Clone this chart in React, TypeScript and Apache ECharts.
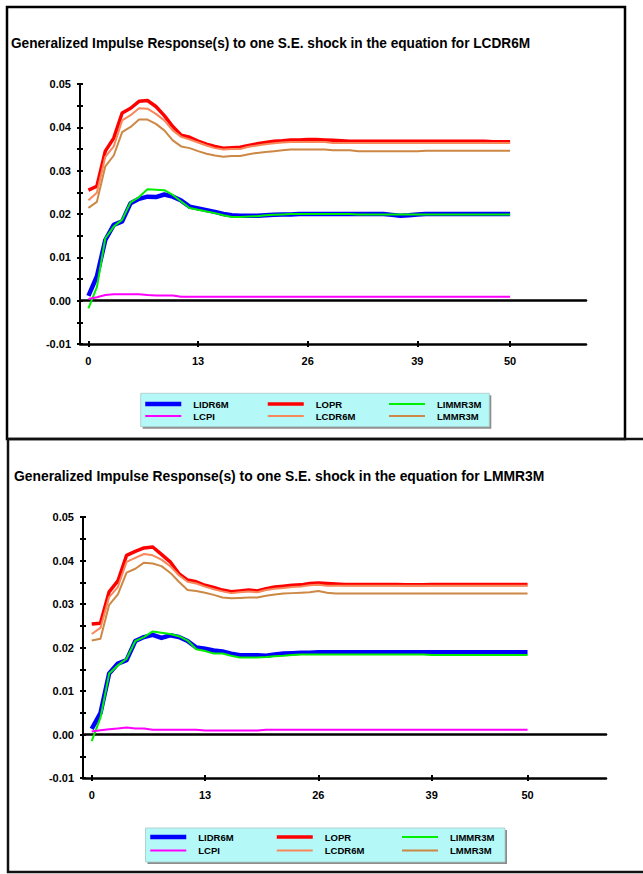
import React, { useEffect, useRef } from 'react';
import * as echarts from 'echarts';

const STEPS = [0, 1, 2, 3, 4, 5, 6, 7, 8, 9, 10, 11, 12, 13, 14, 15, 16, 17, 18, 19, 20, 21, 22, 23, 24, 25, 26, 27, 28, 29, 30, 31, 32, 33, 34, 35, 36, 37, 38, 39, 40, 41, 42, 43, 44, 45, 46, 47, 48, 49, 50];
const X_TICKS = [0, 13, 26, 39, 50];
const NAMES = ['LIDR6M', 'LOPR', 'LIMMR3M', 'LCPI', 'LCDR6M', 'LMMR3M'];
const TITLES = [
  'Generalized Impulse Response(s) to one S.E. shock in the equation for LCDR6M',
  'Generalized Impulse Response(s) to one S.E. shock in the equation for LMMR3M',
];

// ---- top panel (shock to LCDR6M) ----
const TOP_LIDR6M = [0.0011, 0.0056, 0.0140, 0.0175, 0.0183, 0.0225, 0.0235, 0.0240, 0.0239, 0.0245, 0.0240, 0.0231, 0.0217, 0.0213, 0.0209, 0.0205, 0.0200, 0.0197, 0.0196, 0.0196, 0.0196, 0.0197, 0.0198, 0.0199, 0.0199, 0.0200, 0.0200, 0.0200, 0.0200, 0.0200, 0.0200, 0.0200, 0.0200, 0.0200, 0.0200, 0.0200, 0.0198, 0.0196, 0.0197, 0.0199, 0.0200, 0.0200, 0.0200, 0.0200, 0.0200, 0.0200, 0.0200, 0.0200, 0.0200, 0.0200, 0.0200];
const TOP_LOPR = [0.0255, 0.0264, 0.0345, 0.0375, 0.0433, 0.0444, 0.0460, 0.0462, 0.0448, 0.0427, 0.0402, 0.0382, 0.0377, 0.0368, 0.0361, 0.0356, 0.0352, 0.0353, 0.0354, 0.0358, 0.0362, 0.0365, 0.0368, 0.0369, 0.0371, 0.0371, 0.0372, 0.0372, 0.0371, 0.0370, 0.0369, 0.0368, 0.0368, 0.0368, 0.0368, 0.0368, 0.0368, 0.0368, 0.0368, 0.0368, 0.0368, 0.0368, 0.0368, 0.0368, 0.0368, 0.0368, 0.0368, 0.0368, 0.0367, 0.0367, 0.0367];
const TOP_LIMMR3M = [-0.0018, 0.0031, 0.0144, 0.0171, 0.0187, 0.0227, 0.0239, 0.0257, 0.0256, 0.0255, 0.0244, 0.0229, 0.0214, 0.0210, 0.0206, 0.0202, 0.0197, 0.0193, 0.0193, 0.0194, 0.0195, 0.0197, 0.0198, 0.0199, 0.0200, 0.0200, 0.0200, 0.0200, 0.0200, 0.0200, 0.0200, 0.0200, 0.0199, 0.0199, 0.0199, 0.0199, 0.0199, 0.0199, 0.0199, 0.0199, 0.0199, 0.0199, 0.0199, 0.0199, 0.0199, 0.0199, 0.0199, 0.0199, 0.0199, 0.0199, 0.0199];
const TOP_LCPI = [0.0004, 0.0008, 0.0013, 0.0015, 0.0015, 0.0015, 0.0015, 0.0013, 0.0012, 0.0012, 0.0012, 0.0009, 0.0009, 0.0009, 0.0009, 0.0009, 0.0009, 0.0009, 0.0009, 0.0009, 0.0009, 0.0009, 0.0009, 0.0009, 0.0009, 0.0009, 0.0009, 0.0009, 0.0009, 0.0009, 0.0009, 0.0009, 0.0009, 0.0009, 0.0009, 0.0009, 0.0009, 0.0009, 0.0009, 0.0009, 0.0009, 0.0009, 0.0009, 0.0009, 0.0009, 0.0009, 0.0009, 0.0009, 0.0009, 0.0009, 0.0009];
const TOP_LCDR6M = [0.0232, 0.0249, 0.0332, 0.0356, 0.0416, 0.0428, 0.0444, 0.0443, 0.0431, 0.0416, 0.0393, 0.0378, 0.0372, 0.0365, 0.0358, 0.0352, 0.0349, 0.0350, 0.0350, 0.0355, 0.0358, 0.0361, 0.0363, 0.0365, 0.0366, 0.0366, 0.0366, 0.0366, 0.0366, 0.0364, 0.0364, 0.0364, 0.0364, 0.0364, 0.0364, 0.0364, 0.0364, 0.0364, 0.0364, 0.0364, 0.0364, 0.0364, 0.0364, 0.0364, 0.0364, 0.0364, 0.0364, 0.0364, 0.0364, 0.0364, 0.0364];
const TOP_LMMR3M = [0.0214, 0.0228, 0.0310, 0.0335, 0.0389, 0.0401, 0.0418, 0.0418, 0.0408, 0.0393, 0.0370, 0.0356, 0.0352, 0.0345, 0.0339, 0.0335, 0.0332, 0.0334, 0.0334, 0.0338, 0.0341, 0.0343, 0.0345, 0.0347, 0.0349, 0.0349, 0.0349, 0.0349, 0.0349, 0.0347, 0.0347, 0.0347, 0.0345, 0.0345, 0.0345, 0.0345, 0.0345, 0.0345, 0.0345, 0.0345, 0.0346, 0.0346, 0.0346, 0.0346, 0.0346, 0.0346, 0.0346, 0.0346, 0.0346, 0.0346, 0.0346];

// ---- bottom panel (shock to LMMR3M) ----
const BOT_LIDR6M = [0.0013, 0.0049, 0.0140, 0.0163, 0.0171, 0.0215, 0.0224, 0.0229, 0.0222, 0.0228, 0.0224, 0.0215, 0.0200, 0.0197, 0.0193, 0.0191, 0.0186, 0.0182, 0.0182, 0.0182, 0.0181, 0.0184, 0.0186, 0.0187, 0.0188, 0.0188, 0.0189, 0.0189, 0.0189, 0.0189, 0.0189, 0.0189, 0.0189, 0.0189, 0.0189, 0.0189, 0.0189, 0.0189, 0.0189, 0.0189, 0.0189, 0.0189, 0.0189, 0.0189, 0.0189, 0.0189, 0.0189, 0.0189, 0.0189, 0.0189, 0.0189];
const BOT_LOPR = [0.0254, 0.0256, 0.0328, 0.0353, 0.0412, 0.0421, 0.0429, 0.0431, 0.0414, 0.0397, 0.0370, 0.0355, 0.0351, 0.0343, 0.0338, 0.0332, 0.0328, 0.0330, 0.0332, 0.0330, 0.0335, 0.0339, 0.0341, 0.0343, 0.0344, 0.0347, 0.0348, 0.0347, 0.0346, 0.0345, 0.0345, 0.0345, 0.0345, 0.0345, 0.0345, 0.0345, 0.0344, 0.0344, 0.0344, 0.0345, 0.0345, 0.0345, 0.0345, 0.0345, 0.0345, 0.0345, 0.0345, 0.0345, 0.0345, 0.0345, 0.0345];
const BOT_LIMMR3M = [-0.0015, 0.0038, 0.0140, 0.0159, 0.0174, 0.0215, 0.0224, 0.0237, 0.0234, 0.0231, 0.0226, 0.0216, 0.0196, 0.0192, 0.0186, 0.0186, 0.0181, 0.0177, 0.0177, 0.0177, 0.0178, 0.0180, 0.0181, 0.0183, 0.0184, 0.0184, 0.0184, 0.0184, 0.0184, 0.0184, 0.0184, 0.0184, 0.0184, 0.0184, 0.0184, 0.0184, 0.0184, 0.0184, 0.0184, 0.0183, 0.0183, 0.0183, 0.0183, 0.0183, 0.0183, 0.0183, 0.0183, 0.0183, 0.0183, 0.0183, 0.0183];
const BOT_LCPI = [0.0007, 0.0010, 0.0012, 0.0014, 0.0016, 0.0014, 0.0014, 0.0011, 0.0011, 0.0011, 0.0011, 0.0011, 0.0011, 0.0009, 0.0009, 0.0009, 0.0009, 0.0009, 0.0009, 0.0009, 0.0011, 0.0011, 0.0011, 0.0011, 0.0011, 0.0011, 0.0011, 0.0011, 0.0011, 0.0011, 0.0011, 0.0011, 0.0011, 0.0011, 0.0011, 0.0011, 0.0011, 0.0011, 0.0011, 0.0011, 0.0011, 0.0011, 0.0011, 0.0011, 0.0011, 0.0011, 0.0011, 0.0011, 0.0011, 0.0011, 0.0011];
const BOT_LCDR6M = [0.0231, 0.0245, 0.0316, 0.0339, 0.0397, 0.0406, 0.0415, 0.0412, 0.0402, 0.0387, 0.0366, 0.0351, 0.0347, 0.0340, 0.0334, 0.0329, 0.0325, 0.0327, 0.0329, 0.0327, 0.0332, 0.0335, 0.0337, 0.0339, 0.0340, 0.0343, 0.0344, 0.0342, 0.0342, 0.0342, 0.0342, 0.0342, 0.0342, 0.0342, 0.0342, 0.0342, 0.0342, 0.0342, 0.0342, 0.0342, 0.0342, 0.0342, 0.0342, 0.0342, 0.0342, 0.0342, 0.0342, 0.0342, 0.0342, 0.0342, 0.0342];
const BOT_LMMR3M = [0.0216, 0.0220, 0.0298, 0.0322, 0.0372, 0.0381, 0.0395, 0.0393, 0.0387, 0.0372, 0.0351, 0.0332, 0.0330, 0.0326, 0.0321, 0.0315, 0.0313, 0.0314, 0.0315, 0.0315, 0.0319, 0.0322, 0.0324, 0.0325, 0.0326, 0.0327, 0.0330, 0.0326, 0.0324, 0.0324, 0.0324, 0.0324, 0.0324, 0.0324, 0.0324, 0.0324, 0.0324, 0.0324, 0.0324, 0.0324, 0.0324, 0.0324, 0.0324, 0.0324, 0.0324, 0.0324, 0.0324, 0.0324, 0.0324, 0.0324, 0.0324];

const TOP_SERIES = [TOP_LIDR6M, TOP_LOPR, TOP_LIMMR3M, TOP_LCPI, TOP_LCDR6M, TOP_LMMR3M];
const BOT_SERIES = [BOT_LIDR6M, BOT_LOPR, BOT_LIMMR3M, BOT_LCPI, BOT_LCDR6M, BOT_LMMR3M];

const COLORS = ['#0000ff', '#ff0000', '#00ee00', '#ff00ff', '#f8875a', '#cc8844'];
const WIDTHS = [4.5, 3.5, 2, 2, 2, 2];

const FONT = '"Liberation Sans", Arial, sans-serif';

const PANELS = [
  {
    grid: { left: 80, top: 84, width: 506, height: 260 },
    titleX: 11, titleY: 43, titleSize: 15, titleScale: 0.91,
    box: [140.7, 393.3, 348.6, 33.4],
    legendTop: 399, legendLefts: [143, 266, 388], legendGap: 2,
    series: TOP_SERIES,
  },
  {
    grid: { left: 83, top: 517, width: 523, height: 261 },
    titleX: 14, titleY: 476, titleSize: 15.5, titleScale: 0.895,
    box: [145.5, 828, 359.5, 34],
    legendTop: 832, legendLefts: [148, 275, 401], legendGap: 3.4,
    series: BOT_SERIES,
  },
];

export default function App() {
  const ref = useRef<HTMLDivElement>(null);
  useEffect(() => {
    if (!ref.current) return;
    const chart = echarts.init(ref.current, undefined, { renderer: 'svg' });

    const grids: any[] = [];
    const xAxes: any[] = [];
    const yAxes: any[] = [];
    const series: any[] = [];
    const legends: any[] = [];
    const graphics: any[] = [];

    // frames
    graphics.push({ type: 'rect', z: 0, shape: { x: 7, y: 7, width: 618, height: 432 }, style: { fill: 'none', stroke: '#000', lineWidth: 2.5 } });
    graphics.push({ type: 'rect', z: 0, shape: { x: 8, y: 439, width: 700, height: 433 }, style: { fill: 'none', stroke: '#111', lineWidth: 2.5 } });

    PANELS.forEach((p, pi) => {
      grids.push({ ...p.grid, containLabel: false });
      const xb = pi * 3;
      const yb = pi * 2;
      const common = { type: 'value', gridIndex: pi, min: -1, max: 59, splitLine: { show: false } };
      xAxes.push({
        ...common, position: 'bottom',
        axisLine: { onZero: false, lineStyle: { color: '#000', width: 2.5 } },
        axisTick: { show: true, inside: false, length: 3, customValues: X_TICKS, lineStyle: { color: '#000', width: 2 } },
        axisLabel: { show: true, customValues: X_TICKS, margin: 11, color: '#000', fontFamily: FONT, fontWeight: 'bold', fontSize: 11 },
      });
      xAxes.push({
        ...common, position: 'bottom',
        axisLine: { show: false, onZero: false },
        axisTick: { show: true, inside: true, length: 3, customValues: X_TICKS, lineStyle: { color: '#000', width: 2 } },
        axisLabel: { show: false },
      });
      xAxes.push({
        ...common, position: 'bottom',
        axisLine: { show: true, onZero: true, lineStyle: { color: '#000', width: 2.5 } },
        axisTick: { show: false },
        axisLabel: { show: false },
      });
      const ycommon = { type: 'value', gridIndex: pi, min: -0.01, max: 0.05, interval: 0.005, splitLine: { show: false }, position: 'left' };
      yAxes.push({
        ...ycommon,
        axisLine: { show: true, onZero: false, lineStyle: { color: '#000', width: 2 } },
        axisTick: { show: true, inside: false, length: 3, lineStyle: { color: '#000', width: 2 } },
        axisLabel: {
          show: true, margin: 9, color: '#000', fontFamily: FONT, fontWeight: 'bold', fontSize: 11,
          formatter: (v: number) => (Math.round(v * 200) % 2 === 0 ? v.toFixed(2) : ''),
        },
      });
      yAxes.push({
        ...ycommon,
        axisLine: { show: false, onZero: false },
        axisTick: { show: true, inside: true, length: 3, lineStyle: { color: '#000', width: 2 } },
        axisLabel: { show: false },
      });

      NAMES.forEach((name, si) => {
        series.push({
          type: 'line', name, xAxisIndex: xb, yAxisIndex: yb,
          data: p.series[si].map((v, i) => [STEPS[i], v]),
          symbol: 'none', showSymbol: false, smooth: false,
          lineStyle: { color: COLORS[si], width: WIDTHS[si], join: 'round' },
          itemStyle: { color: COLORS[si] },
          z: 3,
        });
      });

      graphics.push({
        type: 'text', z: 5, x: p.titleX, y: p.titleY, scaleX: p.titleScale,
        style: { text: TITLES[pi], fill: '#000', font: `bold ${p.titleSize}px ${FONT}`, textVerticalAlign: 'middle', verticalAlign: 'middle' },
      });

      const [bx, by, bw, bh] = p.box;
      graphics.push({ type: 'rect', z: 0, shape: { x: bx + 2, y: by + 2, width: bw, height: bh }, style: { fill: '#8c8c8c' } });
      graphics.push({ type: 'rect', z: 0, shape: { x: bx, y: by, width: bw, height: bh }, style: { fill: '#b4f8f8', stroke: '#a8c8c8', lineWidth: 0.8 } });

      [0, 1, 2].forEach((c) => {
        legends.push({
          orient: 'vertical', left: p.legendLefts[c], top: p.legendTop, padding: 0,
          itemWidth: 36, itemHeight: 10, itemGap: p.legendGap, selectedMode: false,
          data: [NAMES[c], NAMES[c + 3]].map((n) => ({
            name: n,
            lineStyle: { width: WIDTHS[NAMES.indexOf(n)] },
            itemStyle: { opacity: 0, borderWidth: 0 },
          })),
          itemStyle: { opacity: 0, borderWidth: 0 },
          lineStyle: { width: 'inherit' },
          textStyle: { fontFamily: FONT, fontWeight: 'bold', fontSize: 9.5, color: '#000', padding: [0, 0, 0, 7], lineHeight: 10 },
        });
      });
    });

    chart.setOption({
      animation: false,
      backgroundColor: '#fff',
      grid: grids,
      xAxis: xAxes,
      yAxis: yAxes,
      legend: legends,
      series,
      graphic: graphics,
    });
    return () => chart.dispose();
  }, []);
  return <div ref={ref} style={{ position: 'absolute', left: 0, top: 0, width: 643, height: 874 }} />;
}
